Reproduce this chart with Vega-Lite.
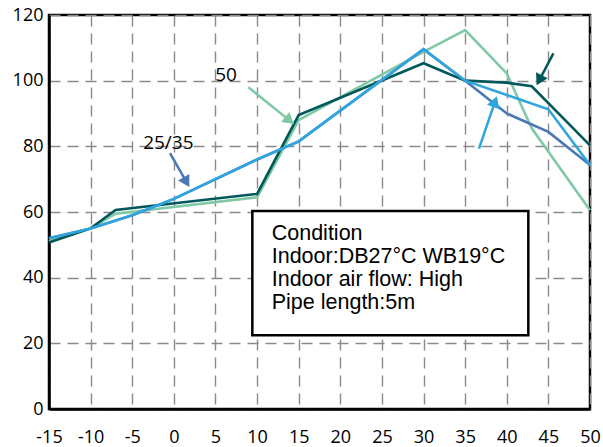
{
  "$schema": "https://vega.github.io/schema/vega-lite/v6.json",
  "width": 541,
  "height": 394,
  "autosize": {"type": "none"},
  "padding": {"left": 49, "top": 15, "right": 13, "bottom": 38},
  "background": "white",
  "config": {
    "view": {"stroke": "black", "strokeWidth": 2.5},
    "axis": {
      "domainColor": "black",
      "domainWidth": 2.5,
      "gridColor": "#8a8a8a",
      "gridDash": [11, 7],
      "gridWidth": 1.4,
      "ticks": false,
      "labelFont": "Open Sans",
      "labelFontSize": 18,
      "labelColor": "black",
      "title": null
    }
  },
  "datasets": {
    "lines": [
      {"s": "G50", "x": -15, "y": 51.2},
      {"s": "G50", "x": -10, "y": 55},
      {"s": "G50", "x": -7, "y": 59.5},
      {"s": "G50", "x": 10, "y": 64.5},
      {"s": "G50", "x": 15, "y": 88},
      {"s": "G50", "x": 30, "y": 108.8},
      {"s": "G50", "x": 35, "y": 115.4},
      {"s": "G50", "x": 40, "y": 102.2},
      {"s": "G50", "x": 43, "y": 85.5},
      {"s": "G50", "x": 50, "y": 60.5},
      {"s": "Teal", "x": -15, "y": 50.7},
      {"s": "Teal", "x": -10, "y": 55},
      {"s": "Teal", "x": -7, "y": 60.6},
      {"s": "Teal", "x": 10, "y": 65.5},
      {"s": "Teal", "x": 15, "y": 89.5},
      {"s": "Teal", "x": 30, "y": 105.3},
      {"s": "Teal", "x": 35, "y": 100},
      {"s": "Teal", "x": 40, "y": 99.4},
      {"s": "Teal", "x": 43, "y": 98.3},
      {"s": "Teal", "x": 50, "y": 80.3},
      {"s": "S", "x": -15, "y": 52},
      {"s": "S", "x": -10, "y": 55},
      {"s": "S", "x": -5, "y": 59},
      {"s": "S", "x": 0, "y": 64},
      {"s": "S", "x": 10, "y": 76},
      {"s": "S", "x": 15, "y": 81.5},
      {"s": "S", "x": 30, "y": 109.6},
      {"s": "S", "x": 35, "y": 100},
      {"s": "S", "x": 40, "y": 90},
      {"s": "S", "x": 45, "y": 84.4},
      {"s": "S", "x": 50, "y": 74.3},
      {"s": "B", "x": -15, "y": 52},
      {"s": "B", "x": -10, "y": 55},
      {"s": "B", "x": -5, "y": 59},
      {"s": "B", "x": 0, "y": 64},
      {"s": "B", "x": 10, "y": 76},
      {"s": "B", "x": 15, "y": 81.5},
      {"s": "B", "x": 30, "y": 109.6},
      {"s": "B", "x": 35, "y": 100},
      {"s": "B", "x": 45, "y": 91.3},
      {"s": "B", "x": 50, "y": 74.3}
    ],
    "arrows": [
      {"s": "G50", "x": 8.95, "y": 98.0, "x2": 13.91, "y2": 87.85, "a": 128.9},
      {"s": "S", "x": -0.46, "y": 77.9, "x2": 1.52, "y2": 69.1, "a": 150.3},
      {"s": "B", "x": 36.66, "y": 79.3, "x2": 38.59, "y2": 93.6, "a": 19.5},
      {"s": "Teal", "x": 45.6, "y": 108.3, "x2": 43.9, "y2": 100.1, "a": 207.4}
    ],
    "labels": [
      {"x": 6.27, "y": 101.7, "t": "50"},
      {"x": -0.66, "y": 80.9, "t": "25/35"}
    ],
    "box": [
      {"x": 9.43, "x2": 42.59, "y": 60.3, "y2": 22.5}
    ],
    "note": [
      {"x": 11.76, "y": 56.8}
    ]
  },
  "encoding": {
    "x": {
      "field": "x",
      "type": "quantitative",
      "scale": {"domain": [-15, 50], "nice": false, "zero": false},
      "axis": {"values": [-15, -10, -5, 0, 5, 10, 15, 20, 25, 30, 35, 40, 45, 50], "labelExpr": "toString(datum.value)", "labelPadding": 19, "labelFlush": false, "title": null}
    },
    "y": {
      "field": "y",
      "type": "quantitative",
      "scale": {"domain": [0, 120], "nice": false},
      "axis": {"values": [0, 20, 40, 60, 80, 100, 120], "labelPadding": 6, "title": null}
    }
  },
  "layer": [
    {
      "data": {"name": "box"},
      "mark": {"type": "rect", "fill": "white", "stroke": "black", "strokeWidth": 2.5},
      "encoding": {"x2": {"field": "x2"}, "y2": {"field": "y2"}}
    },
    {
      "data": {"name": "note"},
      "mark": {
        "type": "text",
        "align": "left",
        "baseline": "top",
        "font": "Liberation Sans",
        "fontSize": 21.5,
        "lineHeight": 23.3,
        "color": "black",
        "text": ["Condition", "Indoor:DB27°C WB19°C", "Indoor air flow: High", "Pipe length:5m"]
      }
    },
    {
      "data": {"name": "lines"},
      "mark": {"type": "line", "strokeWidth": 2.6},
      "encoding": {
        "color": {
          "field": "s",
          "type": "nominal",
          "scale": {"domain": ["G50", "Teal", "S", "B"], "range": ["#80C9A6", "#00585A", "#4A78B4", "#2EA5DF"]},
          "legend": null
        }
      }
    },
    {
      "data": {"name": "arrows"},
      "mark": {"type": "rule", "strokeWidth": 2.5},
      "encoding": {
        "x2": {"field": "x2"},
        "y2": {"field": "y2"},
        "color": {"field": "s", "type": "nominal", "legend": null}
      }
    },
    {
      "data": {"name": "arrows"},
      "mark": {"type": "point", "shape": "triangle-up", "filled": true, "opacity": 1, "size": 170},
      "encoding": {
        "x": {"field": "x2", "type": "quantitative"},
        "y": {"field": "y2", "type": "quantitative"},
        "angle": {"field": "a", "type": "quantitative", "scale": null},
        "color": {"field": "s", "type": "nominal", "legend": null}
      }
    },
    {
      "data": {"name": "labels"},
      "mark": {"type": "text", "font": "Open Sans", "fontSize": 19, "color": "black"},
      "encoding": {"text": {"field": "t"}}
    }
  ]
}
